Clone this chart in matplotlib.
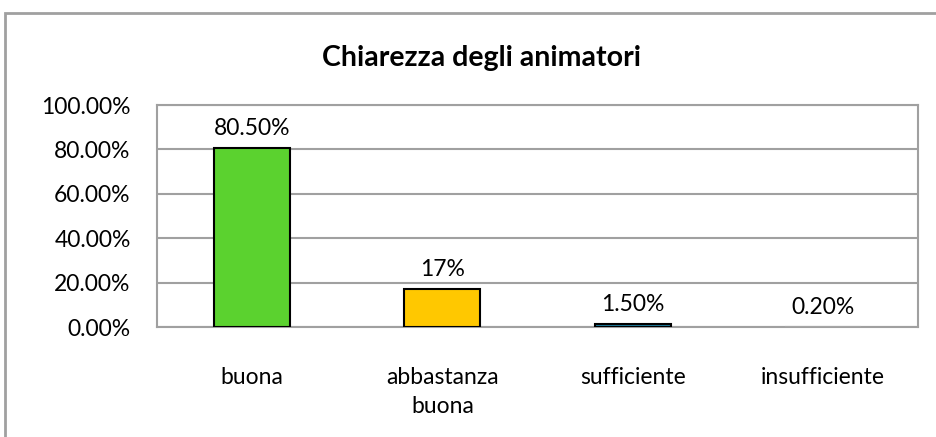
import matplotlib
matplotlib.use("Agg")
import matplotlib.pyplot as plt
from matplotlib.patches import Rectangle

# dati
categorie = ["buona", "abbastanza\nbuona", "sufficiente", "insufficiente"]
valori = [80.5, 17.0, 1.5, 0.2]
etichette = ["80.50%", "17%", "1.50%", "0.20%"]
colori = ["#5BD22F", "#FFC800", "#1F7FA0", "#D9D9D9"]
bordi = ["black", "black", "black", "#A6A6A6"]
yticks = [0, 20, 40, 60, 80, 100]

plt.rcParams['font.family'] = ['Lato', 'DejaVu Sans']

fig = plt.figure(figsize=(9.37, 4.37), dpi=100)
ax = fig.add_axes([157/937, 1-327/437, (918-157)/937, (327-105)/437])

# cornice esterna del grafico
fig.patches.append(Rectangle((5/937, -0.05), 1.1, 1-13/437+0.05,
                             transform=fig.transFigure, fill=False,
                             edgecolor="#A0A0A0", linewidth=2))

x = range(len(categorie))
ax.bar(x, valori, width=0.4, color=colori, edgecolor=bordi, linewidth=1.5, zorder=3)
for i, v in enumerate(valori):
    ax.text(i, v + 4, etichette[i], ha="center", va="bottom", fontsize=16.5)

ax.set_xlim(-0.5, len(categorie) - 0.5)
ax.set_ylim(0, 100)
ax.set_yticks(yticks)
ax.set_yticklabels(["%.2f%%" % t for t in yticks], fontsize=16.5)
ax.set_xticks(list(x))
ax.set_xticklabels(categorie, fontsize=16.5, linespacing=1.45)
ax.tick_params(length=0, pad=19)
ax.tick_params(axis="x", pad=29)
ax.grid(axis="y", color="#A0A0A0", linewidth=1.5, zorder=0)
for s in ax.spines.values():
    s.set_color("#A0A0A0")
    s.set_linewidth(1.5)

fig.text(482/937, 1-58/437, "Chiarezza degli animatori", ha="center", va="center",
         fontsize=20.5, fontweight="bold")

fig.savefig("out.png", dpi=100)
